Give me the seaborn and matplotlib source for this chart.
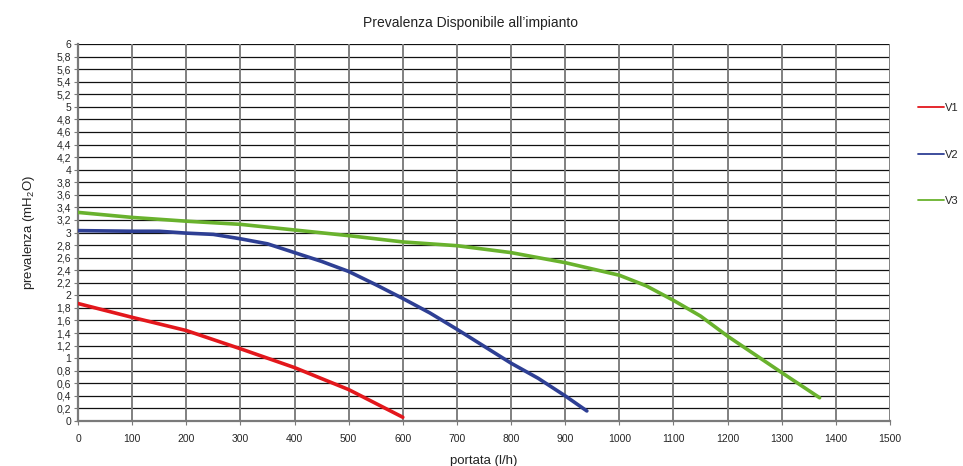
import matplotlib
matplotlib.use("Agg")
import matplotlib.pyplot as plt
import seaborn as sns
import pandas as pd
from matplotlib.lines import Line2D
from matplotlib.ticker import FuncFormatter

# ---- data ----
v1_x = [0, 100, 200, 300, 400, 500, 600]
v1_y = [1.87, 1.65, 1.44, 1.15, 0.85, 0.50, 0.06]

v2_x = [0, 100, 150, 200, 250, 300, 350, 400, 450, 500, 550, 600, 650, 700, 750, 800, 850, 900, 940]
v2_y = [3.03, 3.02, 3.02, 2.99, 2.97, 2.90, 2.82, 2.68, 2.54, 2.38, 2.17, 1.95, 1.72, 1.46, 1.19, 0.92, 0.68, 0.40, 0.16]

v3_x = [0, 100, 200, 300, 400, 500, 600, 700, 800, 850, 900, 950, 1000, 1050, 1100, 1150, 1200, 1250, 1300, 1370]
v3_y = [3.32, 3.24, 3.18, 3.13, 3.04, 2.95, 2.85, 2.79, 2.68, 2.60, 2.52, 2.42, 2.32, 2.15, 1.92, 1.67, 1.35, 1.06, 0.77, 0.37]

series = ["V1", "V2", "V3"]
colors = ["#e3171c", "#2e3f94", "#69b22d"]

title = "Prevalenza Disponibile all\u2019impianto"
xlabel = "portata (l/h)"
ylabel = "prevalenza (mH$_2$O)"

df = pd.concat([
    pd.DataFrame({"portata": v1_x, "prevalenza": v1_y, "serie": "V1"}),
    pd.DataFrame({"portata": v2_x, "prevalenza": v2_y, "serie": "V2"}),
    pd.DataFrame({"portata": v3_x, "prevalenza": v3_y, "serie": "V3"}),
], ignore_index=True)

sns.set_theme(style="white")
plt.rcParams["font.family"] = ["Liberation Sans", "DejaVu Sans"]
plt.rcParams["mathtext.fontset"] = "custom"
plt.rcParams["mathtext.rm"] = "Liberation Sans"
plt.rcParams["mathtext.it"] = "Liberation Sans"

fig = plt.figure(figsize=(9.63, 4.66), dpi=100)
ax = fig.add_axes([78 / 963, 1 - 421 / 466, (890 - 78) / 963, (421 - 44) / 466])

# grid
for yv in [i * 0.2 for i in range(31)]:
    ax.axhline(yv, color="#111111", lw=0.9, zorder=1)
for xv in range(0, 1501, 100):
    ax.axvline(xv, color="#808080", lw=1.4, zorder=1)

sns.lineplot(data=df, x="portata", y="prevalenza", hue="serie", hue_order=series,
             palette=colors, sort=False, estimator=None, lw=2.6, legend=False,
             ax=ax, zorder=3)

ax.set_xlim(0, 1500)
ax.set_ylim(0, 6)
ax.set_xticks(range(0, 1501, 100))
ax.set_yticks([i * 0.2 for i in range(31)])
ax.yaxis.set_major_formatter(FuncFormatter(lambda v, p: ("%g" % round(v, 1)).replace(".", ",")))
ax.tick_params(axis="both", which="major", labelsize=7.5, length=3, width=0.8,
               color="#7a7a7a", direction="out", bottom=True, left=True, pad=2)
ax.tick_params(axis="x", pad=6)
for s in ["left", "bottom"]:
    ax.spines[s].set_color("#7a7a7a")
    ax.spines[s].set_linewidth(1.6)
for s in ["top", "right"]:
    ax.spines[s].set_visible(False)

ax.set_xlabel(xlabel, fontsize=9.5, labelpad=8, color="#222222")
ax.set_ylabel(ylabel, fontsize=9.5, labelpad=14, color="#222222")
fig.text(470 / 963, 1 - 23 / 466, title, fontsize=10, ha="center", va="center", color="#222222")

handles = [Line2D([0], [0], color=c, lw=1.3) for c in colors]
fig.legend(handles, series, loc="upper left", bbox_to_anchor=(918 / 963, 1 - 103 / 466),
           frameon=False, fontsize=8, handlelength=2.3, handletextpad=0.15,
           labelspacing=3.3, borderpad=0, borderaxespad=0)

fig.savefig("out.png", dpi=100)
